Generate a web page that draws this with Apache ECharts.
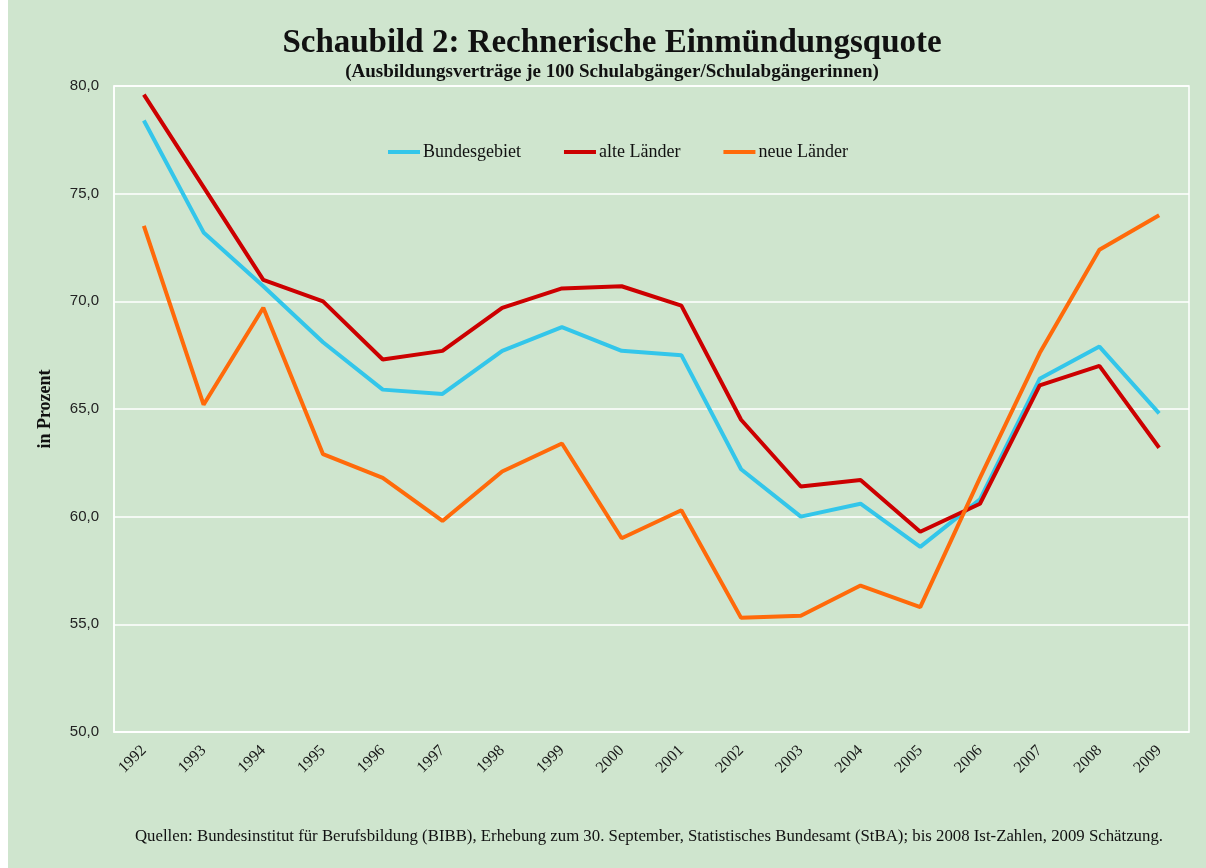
<!DOCTYPE html>
<html>
<head>
<meta charset="utf-8">
<script src="https://cdn.jsdelivr.net/npm/echarts@6/dist/echarts.min.js"></script>
<style>
  html, body { margin: 0; padding: 0; background: #fff; }
  #chart { width: 1206px; height: 868px; }
</style>
</head>
<body>
<div id="chart"></div>
<script>
// Jahre (x-Achse)
const years = ["1992", "1993", "1994", "1995", "1996", "1997", "1998", "1999", "2000",
  "2001", "2002", "2003", "2004", "2005", "2006", "2007", "2008", "2009"];
// Werte in Prozent
const bundesgebiet = [78.4, 73.2, 70.7, 68.1, 65.9, 65.7, 67.7, 68.8, 67.7,
  67.5, 62.2, 60.0, 60.6, 58.6, 60.8, 66.4, 67.9, 64.8];
const alteLaender = [79.6, 75.3, 71.0, 70.0, 67.3, 67.7, 69.7, 70.6, 70.7,
  69.8, 64.5, 61.4, 61.7, 59.3, 60.6, 66.1, 67.0, 63.2];
const neueLaender = [73.5, 65.2, 69.7, 62.9, 61.8, 59.8, 62.1, 63.4, 59.0,
  60.3, 55.3, 55.4, 56.8, 55.8, 61.8, 67.6, 72.4, 74.0];

const serif = '"Liberation Serif", "DejaVu Serif", serif';
const sans = '"Liberation Sans", Arial, sans-serif';

let chart = echarts.init(document.getElementById("chart"));

function lineSeries(name, data, color) {
  return {
    name: name,
    type: "line",
    data: data,
    symbol: "none",
    lineStyle: { color: color, width: 4 },
    itemStyle: { color: color },
  };
}

chart.setOption({
  backgroundColor: "#cfe5ce",
  animation: false,
  graphic: [
    { type: "rect", shape: { x: 0, y: 0, width: 8, height: 868 }, style: { fill: "#ffffff" } },
    {
      type: "text", x: 612, y: 27,
      style: { text: "Schaubild 2: Rechnerische Einmündungsquote", textAlign: "center",
        font: "bold 33px " + serif, fill: "#111" },
    },
    {
      type: "text", x: 612, y: 63,
      style: { text: "(Ausbildungsverträge je 100 Schulabgänger/Schulabgängerinnen)", textAlign: "center",
        font: "bold 19px " + serif, fill: "#111" },
    },
    {
      type: "text", x: 135, y: 828,
      style: { text: "Quellen: Bundesinstitut für Berufsbildung (BIBB), Erhebung zum 30. September, Statistisches Bundesamt (StBA); bis 2008 Ist-Zahlen, 2009 Schätzung.",
        font: "16.8px " + serif, fill: "#111" },
    },
  ],
  legend: {
    left: 383,
    top: 138,
    itemWidth: 32,
    itemHeight: 4,
    itemGap: 43,
    icon: "rect",
    textStyle: { fontFamily: serif, fontSize: 18, color: "#111", padding: [0, 0, 0, -2] },
    data: ["Bundesgebiet", "alte Länder", "neue Länder"],
  },
  grid: {
    left: 114,
    right: 17,
    top: 86,
    bottom: 136,
    show: true,
    borderColor: "#ffffff",
    borderWidth: 1.5,
  },
  xAxis: {
    type: "category",
    data: years,
    boundaryGap: true,
    axisLine: { lineStyle: { color: "#ffffff", width: 1.5 } },
    axisTick: { show: false },
    axisLabel: {
      rotate: 45,
      margin: 16,
      interval: 0,
      color: "#1a1a1a",
      fontFamily: serif,
      fontSize: 16,
    },
  },
  yAxis: {
    type: "value",
    min: 50,
    max: 80,
    interval: 5,
    name: "in Prozent",
    nameLocation: "middle",
    nameGap: 60,
    nameTextStyle: { fontFamily: serif, fontWeight: "bold", fontSize: 18, color: "#111" },
    axisLine: { show: true, lineStyle: { color: "#ffffff", width: 1.5 } },
    axisTick: { show: false },
    splitLine: { lineStyle: { color: "#ffffff", width: 1.5 } },
    axisLabel: {
      margin: 15,
      color: "#222",
      fontFamily: sans,
      fontSize: 15,
      formatter: (v) => v.toFixed(1).replace(".", ","),
    },
  },
  series: [
    lineSeries("Bundesgebiet", bundesgebiet, "#33c6ea"),
    lineSeries("alte Länder", alteLaender, "#cc0000"),
    lineSeries("neue Länder", neueLaender, "#ff6a0a"),
  ],
});
</script>
</body>
</html>
